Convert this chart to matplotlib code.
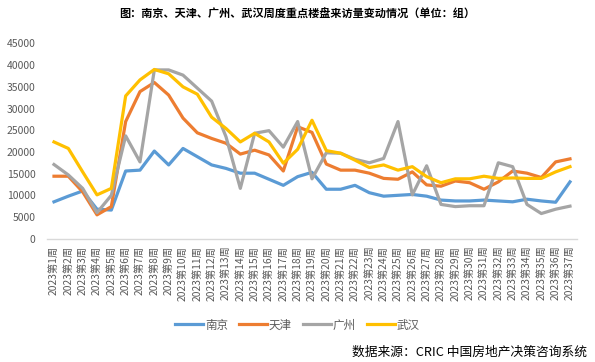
import matplotlib
matplotlib.use("Agg")
import matplotlib.pyplot as plt

plt.rcParams['font.family'] = ['Noto Sans CJK SC', 'DejaVu Sans']

weeks = [f"2023第{i}周" for i in range(1, 38)]

nanjing = [8500, 9800, 11000, 6800, 6600, 15600, 15800, 20200, 17000, 20800,
           18900, 17000, 16200, 15100, 15100, 13700, 12300, 14300, 15300, 11400,
           11400, 12300, 10600, 9800, 10000, 10200, 9800, 8900, 8700, 8700,
           8900, 8700, 8500, 9100, 8700, 8400, 13100]
tianjin = [14400, 14400, 10800, 5500, 7400, 27000, 33900, 36000, 33100, 27800,
           24400, 23100, 22000, 19500, 20400, 19300, 15600, 25800, 24500, 17200,
           15800, 15800, 15100, 13900, 13700, 15400, 12400, 12100, 13300, 12900,
           11400, 13100, 15600, 15100, 14100, 17700, 18400]
guangzhou = [17100, 14700, 11600, 6000, 10000, 23700, 17700, 38900, 38900, 37700,
             34700, 31700, 23500, 11600, 24300, 24900, 21100, 27000, 13800, 19800,
             19700, 18300, 17500, 18500, 27000, 10100, 16800, 7900, 7400, 7600,
             7600, 17500, 16600, 7900, 5800, 6800, 7500]
wuhan = [22300, 20800, 15400, 10100, 11600, 32900, 36600, 39000, 38000, 35000,
         33300, 28000, 25400, 22300, 24300, 22300, 17400, 20600, 27300, 20300,
         19700, 18100, 16400, 17000, 15800, 16600, 14300, 12900, 13800, 13800,
         14400, 13900, 14000, 13900, 13900, 15400, 16600]

series = [("南京", nanjing, "#5B9BD5"),
          ("天津", tianjin, "#ED7D31"),
          ("广州", guangzhou, "#A5A5A5"),
          ("武汉", wuhan, "#FFC000")]

fig = plt.figure(figsize=(5.95, 3.62), dpi=100)
ax = fig.add_axes([0.0787, 0.3406, 0.8913, 0.5394])

x = list(range(len(weeks)))
handles = []
for name, vals, col in series:
    h, = ax.plot(x, vals, color=col, linewidth=2.3, label=name,
                 solid_joinstyle='round')
    handles.append(h)

ax.set_xlim(-0.5, len(weeks) - 0.5)
ax.set_ylim(0, 45000)
ax.set_yticks(range(0, 45001, 5000))
ax.set_yticklabels([str(v) for v in range(0, 45001, 5000)])
ax.set_xticks(x)
ax.set_xticklabels(weeks, rotation=90, va='top', ha='center')

for s in ['top', 'right', 'left']:
    ax.spines[s].set_visible(False)
ax.spines['bottom'].set_color('#D9D9D9')
ax.spines['bottom'].set_linewidth(1.0)
ax.tick_params(axis='y', length=0, labelsize=7.5, labelcolor='#595959', pad=8)
ax.tick_params(axis='x', length=0, labelsize=7.4, labelcolor='#595959', pad=5)

fig.text(0.5, 1 - 14 / 362, "图：南京、天津、广州、武汉周度重点楼盘来访量变动情况（单位：组）",
         ha='center', va='center', fontsize=8, fontweight='bold', color='black')

fig.legend(handles=handles, loc='center', bbox_to_anchor=(0.5, 1 - 325 / 362),
           ncol=4, frameon=False, fontsize=8.3, handlelength=2.4,
           handletextpad=0.15, columnspacing=1.0, labelcolor='#595959')

fig.text(587 / 595, 1 - 352 / 362, "数据来源：CRIC 中国房地产决策咨询系统",
         ha='right', va='center', fontsize=9.2, color='black')

fig.savefig("out.png", dpi=100)
